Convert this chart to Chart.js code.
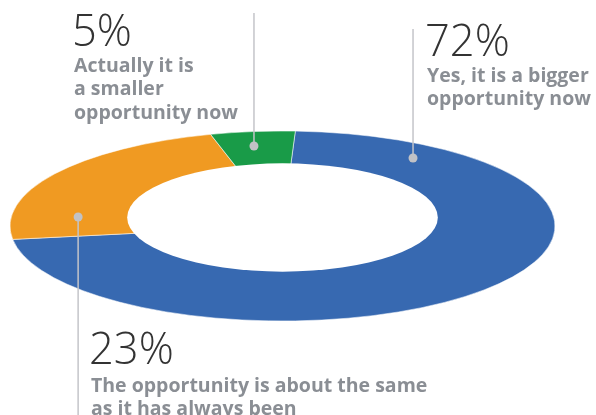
<!DOCTYPE html>
<html>
<head>
<meta charset="utf-8">
<script src="https://cdn.jsdelivr.net/npm/chart.js@4/dist/chart.umd.min.js"></script>
<style>
  html, body { margin: 0; padding: 0; background: #fff; }
  #wrap { position: relative; width: 596px; height: 415px; overflow: hidden; }
  #wrap canvas { position: absolute; left: 0; top: 0; }
  .lbl { position: absolute; white-space: nowrap; font-family: 'Open Sans', sans-serif; }
  .pct { font-weight: 300; font-size: 43.5px; line-height: 43.5px; color: #333333; }
  .txt { font-weight: 700; font-size: 19.5px; line-height: 23.5px; color: #8a8e94; }
</style>
</head>
<body>
<div id="wrap"><canvas id="c" width="596" height="415"></canvas></div>
<script>
// Survey answers, share of respondents (%)
const categories = [
  ['Yes, it is a bigger', 'opportunity now'],
  ['The opportunity is about the same', 'as it has always been'],
  ['Actually it is', 'a smaller', 'opportunity now']
];
const shares = [72, 23, 5];
const colors = ['#3769b1', '#f09a22', '#199b48'];

// Flattened ring: centre, radii on screen, hole size and hole shift (fractions of radius)
const ring = { cx: 282.5, cy: 226, rx: 272.5, ry: 95, hole: 0.57, holeShift: -0.0895 };

// Callout layout per answer: text anchor, where the leader meets the ring, where it ends
const callouts = [
  { x: 425, pctBase: 57,  textBase: 82,  arcFrac: 0.12,  radius: 0.861, lineEnd: 29 },
  { x: 89,  pctBase: 365, textBase: 392, arcFrac: 0.185, radius: 0.756, lineEnd: 415 },
  { x: 72,  pctBase: 47,  textBase: 72,  arcFrac: 0.456, radius: 0.848, lineEnd: 13 }
];

const ringPlugin = {
  id: 'flatRing',
  beforeDatasetsDraw(chart) {
    const arc = chart.getDatasetMeta(0).data[0];
    const ctx = chart.ctx;
    ctx.save();
    ctx.translate(ring.cx, ring.cy);
    ctx.scale(ring.rx / arc.outerRadius, ring.ry / arc.outerRadius);
    ctx.translate(-arc.x, -arc.y);
  },
  afterDatasetsDraw(chart) {
    const arc = chart.getDatasetMeta(0).data[0];
    const ctx = chart.ctx;
    const R = arc.outerRadius;
    ctx.beginPath();
    ctx.arc(arc.x, arc.y + ring.holeShift * R, ring.hole * R, 0, Math.PI * 2);
    ctx.fillStyle = '#ffffff';
    ctx.fill();
    ctx.restore();
  },
  afterDraw(chart) {
    const ctx = chart.ctx;
    const meta = chart.getDatasetMeta(0);
    callouts.forEach((c, i) => {
      const arc = meta.data[i];
      const a = arc.startAngle + c.arcFrac * (arc.endAngle - arc.startAngle);
      const px = ring.cx + ring.rx * c.radius * Math.cos(a);
      const py = ring.cy + ring.ry * c.radius * Math.sin(a);
      ctx.save();
      ctx.strokeStyle = '#c4c5c9';
      ctx.lineWidth = 1.5;
      ctx.beginPath();
      ctx.moveTo(px, py);
      ctx.lineTo(px, c.lineEnd);
      ctx.stroke();
      ctx.fillStyle = '#c1c2c6';
      ctx.beginPath();
      ctx.arc(px, py, 4.5, 0, Math.PI * 2);
      ctx.fill();
      ctx.restore();
    });
  }
};

new Chart(document.getElementById('c'), {
  type: 'pie',
  data: {
    labels: categories.map(l => l.join(' ')),
    datasets: [{
      data: shares,
      backgroundColor: colors,
      borderColor: '#ffffff',
      borderWidth: 0.6
    }]
  },
  options: {
    responsive: false,
    devicePixelRatio: 1,
    animation: false,
    rotation: 2.7,
    layout: { padding: 0 },
    plugins: { legend: { display: false }, tooltip: { enabled: false } }
  },
  plugins: [ringPlugin]
});

// Distance from the top of a line box to its baseline (Open Sans metrics)
function baselineOffset(size, lineHeight) {
  return (lineHeight - 1.362 * size) / 2 + 1.069 * size;
}

// Callout texts
const wrap = document.getElementById('wrap');
callouts.forEach((c, i) => {
  const pct = document.createElement('div');
  pct.className = 'lbl pct';
  pct.textContent = shares[i] + '%';
  pct.style.left = c.x + 'px';
  pct.style.top = (c.pctBase - baselineOffset(43.5, 43.5)) + 'px';
  wrap.appendChild(pct);

  const txt = document.createElement('div');
  txt.className = 'lbl txt';
  txt.innerHTML = categories[i].join('<br>');
  txt.style.left = (c.x + 2) + 'px';
  txt.style.top = (c.textBase - baselineOffset(19.5, 23.5)) + 'px';
  wrap.appendChild(txt);
});
</script>
</body>
</html>
